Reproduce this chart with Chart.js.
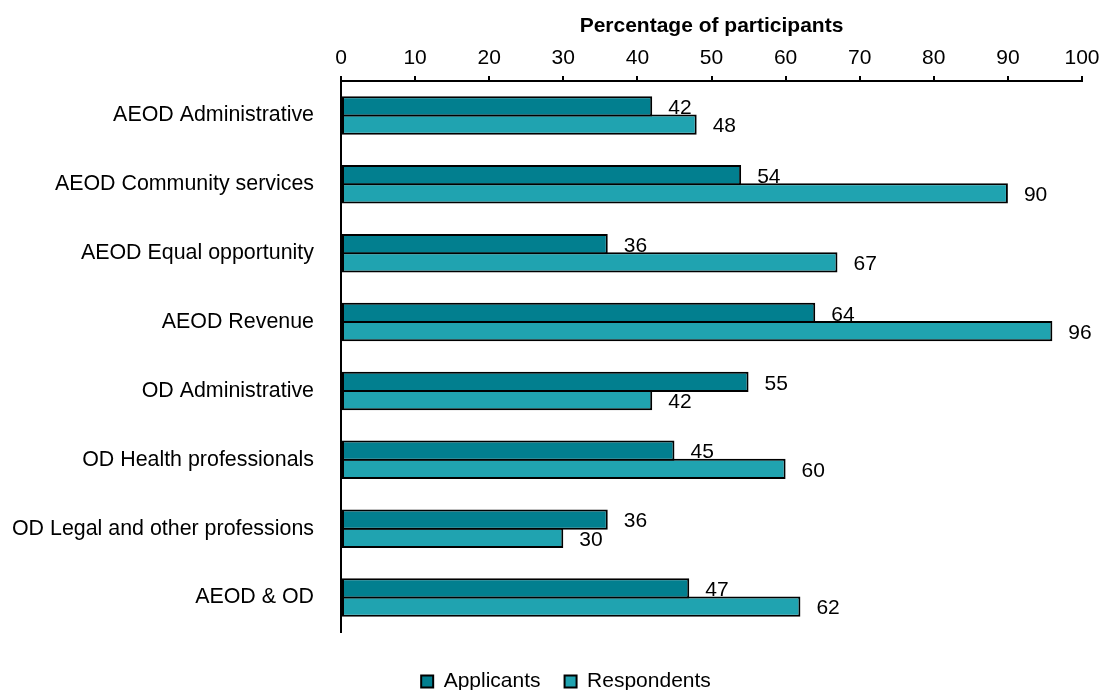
<!DOCTYPE html>
<html>
<head>
<meta charset="utf-8">
<script src="https://cdn.jsdelivr.net/npm/chart.js@4/dist/chart.umd.min.js"></script>
<style>
  html, body { margin: 0; padding: 0; background: #fff; }
</style>
</head>
<body>
<canvas id="participantsChart" width="1102" height="690"></canvas>
<script>
const categories = [
    'AEOD Administrative',
    'AEOD Community services',
    'AEOD Equal opportunity',
    'AEOD Revenue',
    'OD Administrative',
    'OD Health professionals',
    'OD Legal and other professions',
    'AEOD & OD'
]
const applicants = [42, 54, 36, 64, 55, 45, 36, 47]
const respondents = [48, 90, 67, 96, 42, 60, 30, 62]
const xTicks = [0, 10, 20, 30, 40, 50, 60, 70, 80, 90, 100]

const fontFamily = '"Liberation Sans", Arial, sans-serif'
Chart.defaults.font.family = fontFamily
Chart.defaults.font.size = 21
Chart.defaults.color = '#000'

// writes each bar's value just past its end
const valueLabels = {
    id: 'valueLabels',
    afterDatasetsDraw(chart) {
        const ctx = chart.ctx
        ctx.save()
        ctx.font = '21px ' + fontFamily
        ctx.fillStyle = '#000'
        ctx.textAlign = 'left'
        ctx.textBaseline = 'middle'
        chart.data.datasets.forEach((ds, i) => {
            chart.getDatasetMeta(i).data.forEach((bar, j) => {
                ctx.fillText(ds.data[j], bar.x + 16, bar.y + 2)
            })
        })
        ctx.restore()
    }
}

// legend sits a little right of the canvas centre
const legendShift = {
    id: 'legendShift',
    afterLayout(chart) {
        chart.legend.left += 25
        chart.legend.right += 25
    }
}

// the two bars of a pair share one border line, so they overlap slightly
const barStyle = {
    borderColor: '#000',
    borderWidth: 2,
    borderSkipped: false,
    barPercentage: 1.105,
    categoryPercentage: 0.53,
    xAxisID: 'x'
}

new Chart(document.getElementById('participantsChart').getContext('2d'), {
    type: 'bar',
    data: {
        labels: categories,
        datasets: [
            {label: 'Applicants', data: applicants, backgroundColor: '#027f8f', ...barStyle},
            {label: 'Respondents', data: respondents, backgroundColor: '#20a3b0', ...barStyle}
        ]
    },
    options: {
        indexAxis: 'y',
        responsive: false,
        animation: false,
        layout: {padding: {left: 0, right: 20, top: 0, bottom: -12}},
        scales: {
            x: {
                position: 'top',
                min: 0,
                max: 100,
                afterBuildTicks: (scale) => {
                    scale.ticks = xTicks.map(v => ({value: v}))
                },
                afterFit: (scale) => {
                    scale.height = 81
                    scale.paddingRight = 0
                },
                ticks: {padding: 5},
                grid: {drawOnChartArea: false, drawTicks: true, tickLength: 5, color: '#000', lineWidth: 2},
                border: {display: true, color: '#000', width: 2},
                title: {
                    display: true,
                    text: 'Percentage of participants',
                    font: {size: 21, weight: 'bold'},
                    padding: {top: 14, bottom: 0}
                }
            },
            // empty strip that keeps the legend clear of the bars
            gap: {
                type: 'linear',
                position: 'bottom',
                min: 0,
                max: 1,
                afterFit: (scale) => { scale.height = 15 },
                ticks: {display: false},
                grid: {display: false},
                border: {display: false}
            },
            y: {
                afterFit: (scale) => { scale.width = 341 },
                ticks: {padding: 27, font: {size: 21.4}},
                grid: {display: true, drawOnChartArea: false, drawTicks: false},
                border: {display: true, color: '#000', width: 2}
            }
        },
        plugins: {
            legend: {
                position: 'bottom',
                labels: {
                    boxWidth: 12,
                    boxHeight: 12,
                    padding: 24
                }
            },
            tooltip: {enabled: false}
        }
    },
    plugins: [valueLabels, legendShift]
})
</script>
</body>
</html>
